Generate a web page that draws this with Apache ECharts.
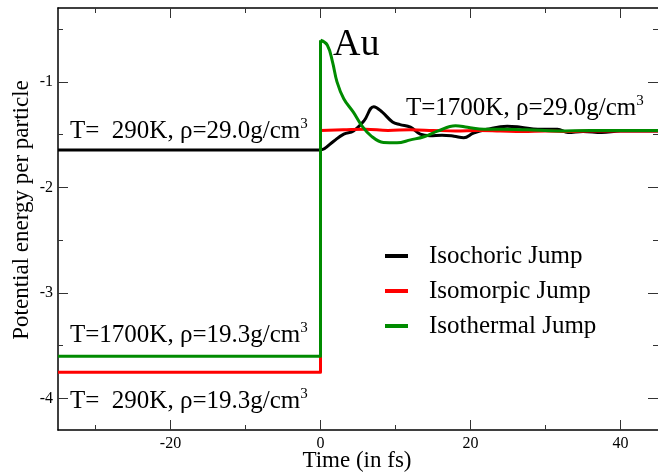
<!DOCTYPE html>
<html><head><meta charset="utf-8">
<script src="https://cdn.jsdelivr.net/npm/echarts@6/dist/echarts.min.js"></script>
<style>html,body{margin:0;padding:0;background:#fff}#c{width:658px;height:472px}</style>
</head><body><div id="c"></div>
<script>
// ---------- data ----------
const seriesNames = ['Isochoric Jump', 'Isomorpic Jump', 'Isothermal Jump'];
const seriesColors = ['#000000', '#ff0000', '#008b00'];

const timeBefore = [-35, 0];
const energyBeforeIsochoric = [-1.645, -1.645];
const energyBeforeIsomorpic = [-3.752, -3.752];
const energyBeforeIsothermal = [-3.6, -3.6];

const timeIsochoric = [0, 0.5, 1.8, 3.1, 4.4, 5.8, 7.1, 8.2, 9.6, 10.6, 12, 13.3, 14.6, 16.2, 17.8, 19.1, 20.4, 22.2, 24.9, 26.7, 29, 31.6, 33, 35, 37.5, 40, 45];
const energyIsochoric = [-1.645, -1.635, -1.56, -1.495, -1.465, -1.37, -1.235, -1.285, -1.38, -1.405, -1.43, -1.495, -1.51, -1.505, -1.515, -1.53, -1.485, -1.45, -1.42, -1.43, -1.45, -1.45, -1.48, -1.47, -1.48, -1.465, -1.465];

const timeIsomorpic = [0, 3, 6, 9, 12, 15, 18, 21, 24, 27, 30, 33, 36, 40, 45];
const energyIsomorpic = [-1.46, -1.455, -1.45, -1.46, -1.455, -1.46, -1.465, -1.46, -1.465, -1.47, -1.465, -1.47, -1.465, -1.465, -1.465];

const timeIsothermal = [0, 0.9, 1.6, 2.2, 3.1, 4.4, 5.5, 6.7, 8.4, 10.2, 12, 13.8, 15.6, 18, 19.6, 21.8, 24, 27.6, 31.6, 36, 40, 45];
const energyIsothermal = [-0.606, -0.65, -0.81, -1.0, -1.16, -1.29, -1.415, -1.51, -1.575, -1.578, -1.55, -1.52, -1.467, -1.415, -1.43, -1.45, -1.45, -1.455, -1.465, -1.46, -1.462, -1.462];

const xMajorTicks = [-20, 0, 20, 40];
const xMinorTicks = [-30, -10, 10, 30];
const yMajorTicks = [-4, -3, -2, -1];
const yMinorTicks = [-3.5, -2.5, -1.5, -0.5];

// ---------- chart ----------
const FONT = 'Liberation Serif';
const pairs = (xs, ys) => xs.map((x, i) => [x, ys[i]]);

function beforePart(name, color, ys, jumpTop) {
  const d = pairs(timeBefore, ys);
  if (jumpTop !== null) d.push([0, jumpTop]);
  return {
    type: 'line', name, data: d, symbol: 'none', smooth: false,
    lineStyle: { color, width: 3, join: 'round' }, itemStyle: { color },
    xAxisIndex: 0, yAxisIndex: 0, silent: true
  };
}
function afterPart(name, color, xs, ys) {
  return {
    type: 'line', name, data: pairs(xs, ys), symbol: 'none', smooth: 0.4,
    lineStyle: { color, width: 3, join: 'round' }, itemStyle: { color },
    xAxisIndex: 0, yAxisIndex: 0, silent: true
  };
}

const labelFont = { fontFamily: FONT, fontSize: 16, color: '#000' };
function xAxisDef(pos, ticks, len, labels, line) {
  return {
    type: 'value', gridIndex: 0, position: pos, min: -35, max: 45,
    axisLine: { show: line, lineStyle: { color: '#000', width: 1.5 } },
    axisTick: { show: true, inside: true, length: len, customValues: ticks, lineStyle: { color: '#333', width: 1 } },
    axisLabel: labels ? Object.assign({ show: true, customValues: ticks, margin: 6 }, labelFont) : { show: false },
    splitLine: { show: false }
  };
}
function yAxisDef(pos, ticks, len, labels, line) {
  return {
    type: 'value', gridIndex: 0, position: pos, min: -4.3, max: -0.3,
    axisLine: { show: line, onZero: false, lineStyle: { color: '#000', width: 1.5 } },
    axisTick: { show: true, inside: true, length: len, customValues: ticks, lineStyle: { color: '#333', width: 1 } },
    axisLabel: labels ? Object.assign({ show: true, customValues: ticks, margin: 5 }, labelFont) : { show: false },
    splitLine: { show: false }
  };
}

const rich = {
  n: { fontFamily: FONT, fontSize: 25, lineHeight: 27, verticalAlign: 'bottom', color: '#000' },
  s: { fontFamily: FONT, fontSize: 15, lineHeight: 15, verticalAlign: 'top', padding: [0, 0, 18, 0], color: '#000' }
};
function annot(text, x, top) {
  return { type: 'text', x, y: top, silent: true,
    style: { text: '{n|' + text + '}{s|3}', rich, align: 'left', verticalAlign: 'top' } };
}

const chart = echarts.init(document.getElementById('c'), null, { renderer: 'canvas' });
chart.setOption({
  animation: false,
  backgroundColor: '#fff',
  grid: { left: 58, top: 8, width: 600, height: 422, containLabel: false },
  xAxis: [
    xAxisDef('bottom', xMajorTicks, 10, true, true),
    xAxisDef('bottom', xMinorTicks, 5, false, false),
    xAxisDef('top', xMajorTicks, 10, false, true),
    xAxisDef('top', xMinorTicks, 5, false, false)
  ],
  yAxis: [
    yAxisDef('left', yMajorTicks, 10, true, true),
    yAxisDef('left', yMinorTicks, 5, false, false),
    yAxisDef('right', yMajorTicks, 10, false, false),
    yAxisDef('right', yMinorTicks, 5, false, false)
  ],
  legend: {
    data: seriesNames,
    orient: 'vertical', left: 385, top: 243, padding: 0,
    itemWidth: 23, itemHeight: 4, itemGap: 9, icon: 'rect',
    selectedMode: false,
    textStyle: { fontFamily: FONT, fontSize: 25, lineHeight: 26, color: '#000', padding: [0, 0, 0, 16] }
  },
  series: [
    beforePart(seriesNames[0], seriesColors[0], energyBeforeIsochoric, null),
    afterPart(seriesNames[0], seriesColors[0], timeIsochoric, energyIsochoric),
    beforePart(seriesNames[1], seriesColors[1], energyBeforeIsomorpic, energyIsomorpic[0]),
    afterPart(seriesNames[1], seriesColors[1], timeIsomorpic, energyIsomorpic),
    beforePart(seriesNames[2], seriesColors[2], energyBeforeIsothermal, energyIsothermal[0]),
    afterPart(seriesNames[2], seriesColors[2], timeIsothermal, energyIsothermal)
  ],
  graphic: [
    { type: 'text', x: 333, y: 64, silent: true,
      style: { text: 'Au', fontFamily: FONT, fontSize: 38, fill: '#000', align: 'left', verticalAlign: 'bottom' } },
    annot('T=  290K, ρ=29.0g/cm', 70, 117),
    annot('T=1700K, ρ=29.0g/cm', 406, 94),
    annot('T=1700K, ρ=19.3g/cm', 70, 321),
    annot('T=  290K, ρ=19.3g/cm', 70, 387),
    { type: 'text', x: 22, y: 210, rotation: Math.PI / 2, silent: true,
      style: { text: 'Potential energy per particle', fontFamily: FONT, fontSize: 23, fill: '#000', align: 'center', verticalAlign: 'middle' } },
    { type: 'text', x: 357, y: 461, silent: true,
      style: { text: 'Time (in fs)', fontFamily: FONT, fontSize: 23, fill: '#000', align: 'center', verticalAlign: 'middle' } }
  ]
});
</script>
</body></html>
